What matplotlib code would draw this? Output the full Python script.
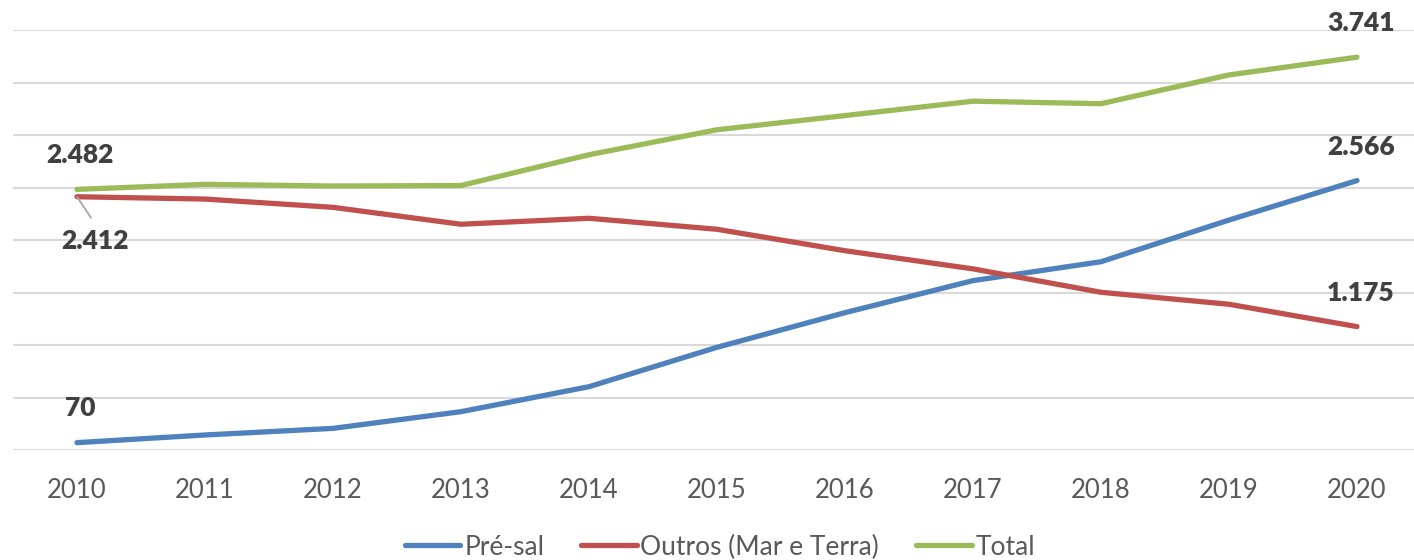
import matplotlib
matplotlib.use("Agg")
import matplotlib.pyplot as plt

years = [2010, 2011, 2012, 2013, 2014, 2015, 2016, 2017, 2018, 2019, 2020]
pre_sal = [70, 143, 206, 365, 603, 978, 1308, 1613, 1793, 2190, 2566]
outros = [2412, 2390, 2311, 2150, 2207, 2102, 1898, 1725, 1502, 1388, 1175]
total = [2482, 2530, 2514, 2519, 2812, 3050, 3185, 3322, 3298, 3572, 3741]
series_names = ["Pré-sal", "Outros (Mar e Terra)", "Total"]
colors = ["#4F81BD", "#C0504D", "#9BBB59"]

plt.rcParams['font.family'] = ['Lato', 'DejaVu Sans']

W, H = 1414, 560
fig = plt.figure(figsize=(W / 100, H / 100), dpi=100)
ax = fig.add_axes([13 / W, 1 - 450 / H, (W - 13) / W, 420 / H])

x = list(range(len(years)))
lines = []
for vals, name, c in zip([pre_sal, outros, total], series_names, colors):
    ln, = ax.plot(x, vals, color=c, lw=3.8, solid_capstyle='round', label=name, zorder=3)
    lines.append(ln)

ax.set_ylim(0, 4000)
ax.set_xlim(-0.5, 10.5 - 7 / 128)
ax.set_yticks(range(0, 4001, 500))
ax.yaxis.grid(True, color="#D9D9D9", lw=1.5)
ax.set_axisbelow(True)
ax.tick_params(axis='y', left=False, labelleft=False)
ax.set_xticks(x)
ax.set_xticklabels([str(y) for y in years], fontsize=18.5, color="#595959")
ax.tick_params(axis='x', length=0, pad=20)
for s in ax.spines.values():
    s.set_visible(False)


def fmt(v):
    return f"{v:,}".replace(",", ".")


lab_kw = dict(textcoords='offset pixels', ha='center', va='center',
              fontsize=19, fontweight='heavy', color="#404040")
# first-year labels
ax.annotate(fmt(total[0]), (x[0], total[0]), xytext=(3, 34), **lab_kw)
ax.annotate(fmt(pre_sal[0]), (x[0], pre_sal[0]), xytext=(3, 35), **lab_kw)
ax.annotate("", (x[0], outros[0]), xytext=(14, -21), textcoords='offset pixels',
            arrowprops=dict(arrowstyle='-', color="#A6A6A6", lw=1.3,
                            shrinkA=0, shrinkB=0))
ax.annotate(fmt(outros[0]), (x[0], outros[0]), xytext=(18, -44), **lab_kw)
# last-year labels
for vals in [total, pre_sal, outros]:
    ax.annotate(fmt(vals[-1]), (x[-1], vals[-1]), xytext=(4, 34), **lab_kw)

fig.legend(handles=lines, loc='center', bbox_to_anchor=(720 / W, 1 - 547 / H),
           ncol=3, frameon=False, fontsize=19, labelcolor="#595959",
           handlelength=2.1, handletextpad=0.15, columnspacing=1.4,
           borderpad=0, borderaxespad=0)

fig.savefig("out.png", dpi=100)
